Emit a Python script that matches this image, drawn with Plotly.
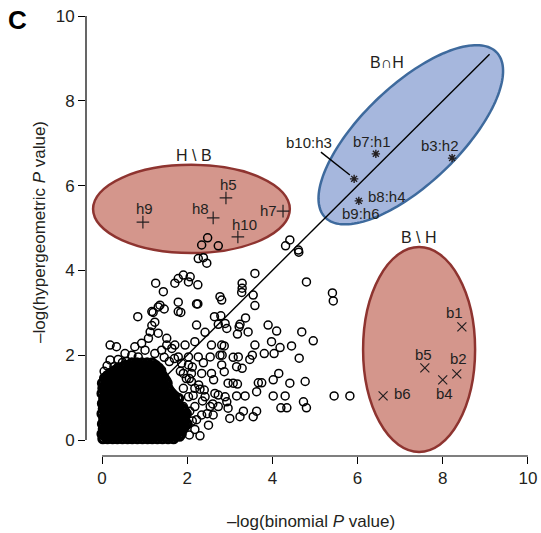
import numpy as np
import plotly.graph_objects as go

# ---------------- data ----------------
# dense cloud near the origin: one hypergeometric level per row, binomial values per row
blob_hyper = [0.03, 0.14, 0.26, 0.38, 0.50, 0.62, 0.74, 0.86, 0.98, 1.10, 1.22, 1.34, 1.46, 1.58, 1.70, 1.82,
              0.09, 0.20, 0.32, 0.44, 0.56, 0.68, 0.80, 0.92, 1.04, 1.16, 1.28, 1.40, 1.52, 1.64, 1.76]
blob_binom = [
    [0.02, 0.13, 0.25, 0.36, 0.48, 0.60, 0.71, 0.83, 0.95, 1.07, 1.18, 1.30, 1.42, 1.55, 1.68],
    [0.00, 0.11, 0.22, 0.34, 0.46, 0.57, 0.69, 0.80, 0.92, 1.04, 1.16, 1.27, 1.39, 1.50, 1.62, 1.75, 1.86],
    [0.03, 0.14, 0.26, 0.38, 0.49, 0.61, 0.73, 0.84, 0.96, 1.08, 1.19, 1.31, 1.43, 1.54, 1.66, 1.78, 1.90],
    [0.01, 0.12, 0.24, 0.35, 0.47, 0.59, 0.70, 0.82, 0.94, 1.05, 1.17, 1.29, 1.40, 1.52, 1.64, 1.76, 1.88, 2.00],
    [0.04, 0.15, 0.27, 0.39, 0.50, 0.62, 0.74, 0.85, 0.97, 1.09, 1.20, 1.32, 1.44, 1.56, 1.67, 1.79, 1.92],
    [0.00, 0.12, 0.23, 0.35, 0.47, 0.58, 0.70, 0.82, 0.93, 1.05, 1.17, 1.28, 1.40, 1.52, 1.63, 1.75, 1.87, 1.98],
    [0.03, 0.14, 0.26, 0.37, 0.49, 0.61, 0.72, 0.84, 0.96, 1.07, 1.19, 1.31, 1.42, 1.54, 1.66, 1.78, 1.90],
    [0.01, 0.13, 0.24, 0.36, 0.48, 0.59, 0.71, 0.83, 0.94, 1.06, 1.18, 1.29, 1.41, 1.53, 1.65, 1.77],
    [0.04, 0.15, 0.27, 0.38, 0.50, 0.62, 0.73, 0.85, 0.97, 1.08, 1.20, 1.32, 1.43, 1.55, 1.68, 1.80],
    [0.00, 0.12, 0.23, 0.35, 0.47, 0.58, 0.70, 0.82, 0.93, 1.05, 1.17, 1.28, 1.40, 1.52, 1.64],
    [0.02, 0.14, 0.25, 0.37, 0.49, 0.60, 0.72, 0.84, 0.95, 1.07, 1.19, 1.30, 1.42, 1.55],
    [0.01, 0.12, 0.24, 0.36, 0.47, 0.59, 0.71, 0.82, 0.94, 1.06, 1.17, 1.29, 1.41, 1.53],
    [0.06, 0.17, 0.29, 0.41, 0.52, 0.64, 0.76, 0.87, 0.99, 1.11, 1.22, 1.34, 1.46],
    [0.20, 0.32, 0.44, 0.55, 0.67, 0.79, 0.90, 1.02, 1.14, 1.26, 1.38],
    [0.38, 0.50, 0.62, 0.73, 0.85, 0.97, 1.09, 1.21, 1.33],
    [0.70, 0.82, 0.94, 1.06, 1.18],
    [0.07, 0.19, 0.31, 0.42, 0.54, 0.66, 0.77, 0.89, 1.01, 1.12, 1.24, 1.36, 1.47, 1.59, 1.71, 1.82],
    [0.05, 0.17, 0.28, 0.40, 0.52, 0.63, 0.75, 0.87, 0.98, 1.10, 1.22, 1.33, 1.45, 1.57, 1.69, 1.81],
    [0.08, 0.20, 0.31, 0.43, 0.55, 0.66, 0.78, 0.90, 1.01, 1.13, 1.25, 1.36, 1.48, 1.60, 1.71, 1.83, 1.94],
    [0.06, 0.18, 0.29, 0.41, 0.53, 0.64, 0.76, 0.88, 0.99, 1.11, 1.23, 1.34, 1.46, 1.58, 1.70, 1.82, 1.94],
    [0.06, 0.18, 0.29, 0.41, 0.53, 0.64, 0.76, 0.88, 0.99, 1.11, 1.23, 1.34, 1.46, 1.58, 1.70, 1.81, 1.93],
    [0.07, 0.19, 0.30, 0.42, 0.54, 0.65, 0.77, 0.89, 1.00, 1.12, 1.24, 1.35, 1.47, 1.59, 1.70, 1.82, 1.94],
    [0.06, 0.18, 0.29, 0.41, 0.53, 0.64, 0.76, 0.88, 0.99, 1.11, 1.23, 1.34, 1.46, 1.58, 1.70, 1.82],
    [0.08, 0.19, 0.31, 0.43, 0.54, 0.66, 0.78, 0.89, 1.01, 1.13, 1.24, 1.36, 1.48, 1.60, 1.72],
    [0.06, 0.18, 0.29, 0.41, 0.53, 0.64, 0.76, 0.88, 0.99, 1.11, 1.23, 1.34, 1.46, 1.58, 1.70],
    [0.07, 0.19, 0.30, 0.42, 0.54, 0.65, 0.77, 0.89, 1.00, 1.12, 1.24, 1.35, 1.47, 1.59],
    [0.06, 0.18, 0.30, 0.41, 0.53, 0.65, 0.76, 0.88, 1.00, 1.11, 1.23, 1.35, 1.47],
    [0.09, 0.21, 0.33, 0.44, 0.56, 0.68, 0.79, 0.91, 1.03, 1.14, 1.26, 1.38, 1.50],
    [0.13, 0.25, 0.37, 0.48, 0.60, 0.72, 0.83, 0.95, 1.07, 1.19, 1.31, 1.42],
    [0.30, 0.42, 0.54, 0.66, 0.78, 0.90, 1.02, 1.14, 1.26, 1.38],
    [0.55, 0.66, 0.78, 0.90, 1.02, 1.14, 1.26],
]

# sparser points around the cloud
other_binom = [
    2.34, 2.48, 2.73, 2.26, 2.38, 2.46, 1.91, 1.79, 2.07, 1.71, 2.03, 2.25,
    1.26, 1.44, 1.79, 1.85, 2.25, 1.32, 1.46, 1.20, 0.84, 1.17, 1.24, 1.13,
    2.22, 2.42, 2.64, 2.79, 2.77, 2.81, 4.41, 4.31, 4.61, 4.62, 3.59, 3.29,
    3.29, 3.28, 3.55, 3.59, 4.80, 5.41, 5.43, 3.37, 3.24, 3.22, 3.90, 4.10,
    4.69, 3.43, 2.89, 2.93, 2.73, 3.18, 4.96, 3.59, 3.98, 4.18, 4.45, 3.81,
    4.04, 4.63, 3.53, 3.47, 3.20, 3.08, 3.16, 3.29, 2.81, 2.87, 2.82, 2.81,
    2.87, 4.15, 4.02, 4.41, 4.77, 3.67, 3.75, 2.96, 3.08, 3.18, 3.63, 4.02,
    4.30, 5.45, 5.82, 3.16, 3.36, 2.73, 2.89, 2.93, 4.73, 4.80, 4.20, 4.34,
    3.63, 3.32, 3.24, 3.55, 3.00, 2.73, 2.96,
    0.19, 0.34, 0.19, 0.38, 0.54, 0.58, 0.77, 0.93, 1.09, 1.52, 1.71, 1.95,
    2.18, 2.57, 1.79, 2.03, 2.26, 2.54, 2.77, 1.91, 2.10, 2.34, 2.57, 2.18,
    2.42, 2.65, 2.54, 2.18, 1.95, 2.18, 2.50, 0.89, 1.87, 2.03, 2.10, 1.91,
    2.03, 1.91, 2.34, 2.61, 1.95, 1.24, 1.40, 1.64, 1.52, 1.32, 1.01, 0.70,
    0.85, 1.17, 1.36, 1.79, 2.22, 2.12, 2.30, 1.72, 2.05,
    1.98, 2.14, 2.27, 2.40, 2.06, 2.22, 2.36, 2.47, 2.60, 2.12, 1.84, 1.70,
    2.38, 2.62, 2.05, 2.30, 0.05, 0.12, 0.28, 0.48, 1.46, 1.58,
]
other_hyper = [
    4.60, 4.77, 4.58, 4.28, 4.30, 4.17, 3.89, 3.81, 3.85, 3.70, 3.73, 3.66,
    3.70, 3.50, 3.25, 3.01, 3.21, 3.14, 3.09, 3.01, 2.91, 2.70, 2.78, 2.55,
    2.71, 2.54, 2.91, 2.93, 3.38, 3.30, 4.72, 4.58, 4.48, 4.43, 3.93, 3.70,
    3.58, 3.48, 3.42, 3.17, 3.73, 3.47, 3.28, 2.88, 2.73, 2.67, 2.71, 2.57,
    2.55, 2.55, 2.75, 2.63, 2.73, 2.50, 2.34, 2.24, 2.32, 2.18, 2.22, 2.04,
    2.04, 1.93, 2.00, 1.90, 1.96, 1.95, 1.73, 1.69, 2.24, 2.22, 2.00, 1.77,
    1.61, 1.57, 1.42, 1.34, 1.38, 1.35, 1.35, 1.34, 1.34, 1.32, 1.14, 1.04,
    1.04, 1.04, 1.04, 1.04, 1.04, 1.06, 1.02, 0.90, 0.90, 0.76, 0.76, 0.76,
    0.68, 0.68, 0.55, 0.55, 0.51, 0.79, 0.75,
    2.24, 2.20, 1.89, 1.90, 2.04, 1.85, 2.20, 2.28, 2.40, 2.24, 2.24, 2.24,
    2.32, 2.24, 1.96, 1.96, 1.96, 1.96, 2.00, 1.57, 1.57, 1.57, 1.57, 1.22,
    1.02, 1.10, 0.79, 0.79, 0.31, 0.25, 0.35, 0.09, 1.81, 1.77, 1.38, 1.22,
    1.02, 0.79, 0.59, 0.59, 0.55, 2.04, 2.12, 2.16, 2.40, 2.52, 2.12, 2.00,
    1.96, 3.03, 3.18, 3.03, 3.21, 0.45, 1.20, 0.15, 1.45,
    1.45, 1.05, 1.30, 1.18, 0.68, 0.48, 0.92, 0.62, 0.85, 1.72, 1.62, 1.92,
    1.82, 1.42, 0.12, 0.10, 1.62, 1.75, 1.73, 1.83, 1.95, 1.85,
]

# highlighted gene sets
hb_names = ["h9", "h8", "h5", "h7", "h10"]
hb_binom = [0.96, 2.61, 2.91, 4.25, 3.19]
hb_hyper = [5.14, 5.24, 5.71, 5.40, 4.79]

bh_names = ["b1", "b5", "b2", "b4", "b6"]
bh_binom = [8.45, 7.58, 8.33, 8.00, 6.60]
bh_hyper = [2.67, 1.70, 1.56, 1.42, 1.04]

both_names = ["b7:h1", "b3:h2", "b10:h3", "b8:h4", "b9:h6"]
both_binom = [6.43, 8.22, 5.92, 6.03, 6.03]
both_hyper = [6.75, 6.65, 6.16, 5.64, 5.64]

diag_end = 9.1

# ---------------- styling / layout ----------------
FONT = "Liberation Sans, Arial, Helvetica, sans-serif"
TXT = "#231f20"
RED_FILL = "#d4968c"
RED_EDGE = "#8e3430"
BLUE_FILL = "#a6b7dd"
BLUE_EDGE = "#3e6a9d"

# label offsets in pixels (dx, dy up)
hb_off = [(2, 14), (-13, 9), (3, 13), (-15, 1), (7, 12)]
bh_off = [(-7, 14), (-1, 13), (2, 15), (2, -14), (19, 2)]
both_off = [(-4, 12), (-12, 13), (-45, 36), (28, 4), (2, -13)]

bx = [v for row in blob_binom for v in row]
by = [h for h, row in zip(blob_hyper, blob_binom) for _ in row]

fig = go.Figure()

# dense cloud: many overlapping circles, drawn with a heavier stroke so it reads as solid
fig.add_trace(go.Scatter(
    x=bx, y=by, mode="markers",
    marker=dict(symbol="circle-open", size=8, color="black", line=dict(width=3.2, color="black")),
    showlegend=False, hoverinfo="skip"))

fig.add_trace(go.Scatter(
    x=other_binom, y=other_hyper, mode="markers",
    marker=dict(symbol="circle-open", size=8, color="black", line=dict(width=1.5, color="black")),
    showlegend=False, hoverinfo="skip"))

fig.add_trace(go.Scatter(
    x=[0, diag_end], y=[0, diag_end], mode="lines",
    line=dict(color="black", width=1.4), showlegend=False))

fig.add_trace(go.Scatter(
    x=hb_binom, y=hb_hyper, mode="markers",
    marker=dict(symbol="cross-thin", size=9, line=dict(width=1.2, color=TXT)),
    showlegend=False))
fig.add_trace(go.Scatter(
    x=bh_binom, y=bh_hyper, mode="markers",
    marker=dict(symbol="x-thin", size=9, line=dict(width=1.2, color=TXT)),
    showlegend=False))
fig.add_trace(go.Scatter(
    x=both_binom[:4], y=both_hyper[:4], mode="markers",
    marker=dict(symbol="asterisk", size=7, line=dict(width=1.4, color=TXT)),
    showlegend=False))


def ellipse_path(cx, cy, a, b, ang_deg, n=160):
    t = np.linspace(0, 2 * np.pi, n)
    th = np.deg2rad(ang_deg)
    xs = cx + a * np.cos(t) * np.cos(th) - b * np.sin(t) * np.sin(th)
    ys = cy + a * np.cos(t) * np.sin(th) + b * np.sin(t) * np.cos(th)
    return "M " + " L ".join(f"{x:.4f},{y:.4f}" for x, y in zip(xs, ys)) + " Z"


shapes = [
    dict(type="circle", xref="x", yref="y", x0=-0.21, x1=4.41, y0=4.41, y1=6.49,
         fillcolor=RED_FILL, line=dict(color=RED_EDGE, width=2.5), layer="below"),
    dict(type="circle", xref="x", yref="y", x0=6.13, x1=8.76, y0=-0.28, y1=4.55,
         fillcolor=RED_FILL, line=dict(color=RED_EDGE, width=2.5), layer="below"),
    dict(type="path", xref="x", yref="y", path=ellipse_path(7.25, 7.2, 2.8, 1.15, 44),
         fillcolor=BLUE_FILL, line=dict(color=BLUE_EDGE, width=2.5), layer="below"),
    # leader line for b10:h3
    dict(type="line", xref="x", yref="y", x0=5.14, y0=6.79, x1=5.82, y1=6.25,
         line=dict(color="black", width=1.4)),
    # detached axis lines
    dict(type="line", xref="x", yref="paper", x0=0, x1=10, y0=0, y1=0,
         line=dict(color="black", width=1.2)),
    dict(type="line", xref="paper", yref="y", x0=0, x1=0, y0=0, y1=10,
         line=dict(color="black", width=1.2)),
]

ann = []
for names, xs, ys, offs in [(hb_names, hb_binom, hb_hyper, hb_off),
                            (bh_names, bh_binom, bh_hyper, bh_off),
                            (both_names, both_binom, both_hyper, both_off)]:
    for n, x, y, (dx, dy) in zip(names, xs, ys, offs):
        ann.append(dict(x=x, y=y, text=n, showarrow=False, xshift=dx, yshift=dy,
                        font=dict(family=FONT, size=15, color=TXT)))

ann += [
    dict(x=2.15, y=6.72, text="H \\ B", showarrow=False, font=dict(family=FONT, size=16, color=TXT)),
    dict(x=7.45, y=4.78, text="B \\ H", showarrow=False, font=dict(family=FONT, size=16, color=TXT)),
    dict(x=6.68, y=8.90, text="B∩H", showarrow=False, font=dict(family=FONT, size=16, color=TXT)),
    dict(x=-0.178, y=0.973, xref="paper", yref="paper", xanchor="left", yanchor="middle",
         text="<b>C</b>", showarrow=False, font=dict(family=FONT, size=26, color="black")),
]

axis_common = dict(
    showgrid=False, zeroline=False, showline=False,
    ticks="outside", ticklen=7, tickwidth=1.2, tickcolor="black",
    tickvals=[0, 2, 4, 6, 8, 10],
    tickfont=dict(family=FONT, size=17, color=TXT),
)

fig.update_layout(
    width=541, height=533,
    margin=dict(l=86, r=5, t=8, b=77),
    plot_bgcolor="white", paper_bgcolor="white",
    xaxis=dict(range=[-0.376, 10.19], title=dict(text="–log(binomial <i>P</i> value)",
               font=dict(family=FONT, size=17, color=TXT), standoff=27), **axis_common),
    yaxis=dict(range=[-0.377, 10.19], title=dict(text="–log(hypergeometric <i>P</i> value)",
               font=dict(family=FONT, size=17, color=TXT), standoff=5), **axis_common),
    shapes=shapes, annotations=ann, showlegend=False,
)

fig.write_html("out.html")
